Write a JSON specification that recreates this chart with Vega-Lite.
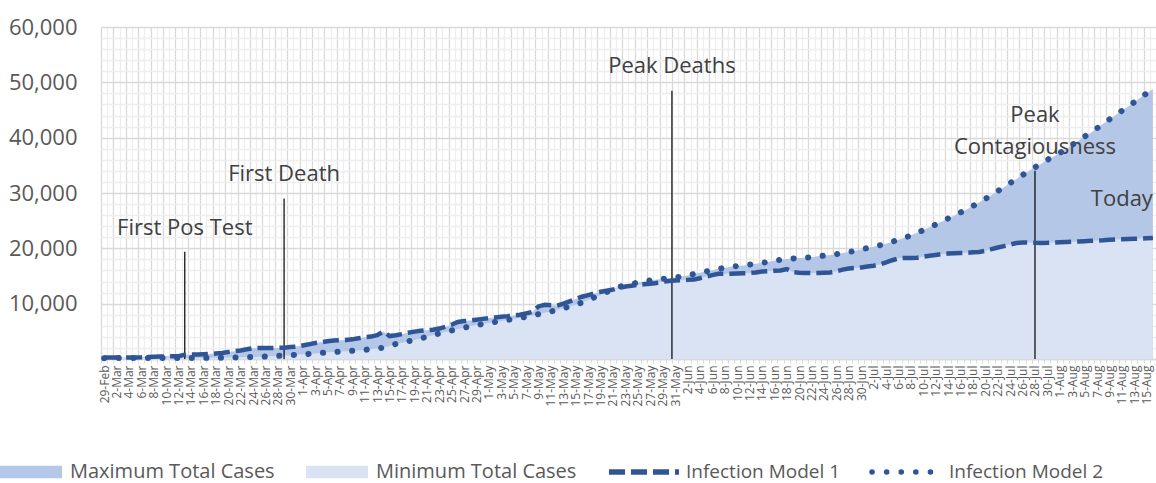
{
  "$schema": "https://vega.github.io/schema/vega-lite/v6.json",
  "width": 1055,
  "height": 332,
  "autosize": {"type": "none"},
  "padding": {"left": 101, "top": 27, "right": 0, "bottom": 124},
  "background": "white",
  "config": {"font": "Open Sans", "view": {"stroke": null}},
  "datasets": {
    "cases": [
      {"d":"2020-02-29","m1":250,"m2":150,"mx":250,"mn":150},
      {"d":"2020-03-01","m1":250,"m2":150,"mx":250,"mn":150},
      {"d":"2020-03-02","m1":250,"m2":160,"mx":250,"mn":160},
      {"d":"2020-03-03","m1":260,"m2":160,"mx":260,"mn":160},
      {"d":"2020-03-04","m1":270,"m2":170,"mx":270,"mn":170},
      {"d":"2020-03-05","m1":280,"m2":170,"mx":280,"mn":170},
      {"d":"2020-03-06","m1":300,"m2":180,"mx":300,"mn":180},
      {"d":"2020-03-07","m1":350,"m2":180,"mx":350,"mn":180},
      {"d":"2020-03-08","m1":400,"m2":190,"mx":400,"mn":190},
      {"d":"2020-03-09","m1":450,"m2":190,"mx":450,"mn":190},
      {"d":"2020-03-10","m1":480,"m2":200,"mx":480,"mn":200},
      {"d":"2020-03-11","m1":480,"m2":200,"mx":480,"mn":200},
      {"d":"2020-03-12","m1":500,"m2":200,"mx":500,"mn":200},
      {"d":"2020-03-13","m1":780,"m2":200,"mx":780,"mn":200},
      {"d":"2020-03-14","m1":800,"m2":200,"mx":800,"mn":200},
      {"d":"2020-03-15","m1":800,"m2":200,"mx":800,"mn":200},
      {"d":"2020-03-16","m1":850,"m2":200,"mx":850,"mn":200},
      {"d":"2020-03-17","m1":900,"m2":210,"mx":900,"mn":210},
      {"d":"2020-03-18","m1":1000,"m2":220,"mx":1000,"mn":220},
      {"d":"2020-03-19","m1":1100,"m2":240,"mx":1100,"mn":240},
      {"d":"2020-03-20","m1":1250,"m2":260,"mx":1250,"mn":260},
      {"d":"2020-03-21","m1":1400,"m2":280,"mx":1400,"mn":280},
      {"d":"2020-03-22","m1":1550,"m2":310,"mx":1550,"mn":310},
      {"d":"2020-03-23","m1":1750,"m2":340,"mx":1750,"mn":340},
      {"d":"2020-03-24","m1":1950,"m2":360,"mx":1950,"mn":360},
      {"d":"2020-03-25","m1":2000,"m2":400,"mx":2000,"mn":400},
      {"d":"2020-03-26","m1":2000,"m2":450,"mx":2000,"mn":450},
      {"d":"2020-03-27","m1":2000,"m2":500,"mx":2000,"mn":500},
      {"d":"2020-03-28","m1":2000,"m2":560,"mx":2000,"mn":560},
      {"d":"2020-03-29","m1":2050,"m2":620,"mx":2050,"mn":620},
      {"d":"2020-03-30","m1":2150,"m2":690,"mx":2150,"mn":690},
      {"d":"2020-03-31","m1":2250,"m2":770,"mx":2250,"mn":770},
      {"d":"2020-04-01","m1":2450,"m2":850,"mx":2450,"mn":850},
      {"d":"2020-04-02","m1":2650,"m2":920,"mx":2650,"mn":920},
      {"d":"2020-04-03","m1":2900,"m2":1000,"mx":2900,"mn":1000},
      {"d":"2020-04-04","m1":3050,"m2":1100,"mx":3050,"mn":1100},
      {"d":"2020-04-05","m1":3200,"m2":1200,"mx":3200,"mn":1200},
      {"d":"2020-04-06","m1":3350,"m2":1270,"mx":3350,"mn":1270},
      {"d":"2020-04-07","m1":3380,"m2":1340,"mx":3380,"mn":1340},
      {"d":"2020-04-08","m1":3420,"m2":1410,"mx":3420,"mn":1410},
      {"d":"2020-04-09","m1":3550,"m2":1480,"mx":3550,"mn":1480},
      {"d":"2020-04-10","m1":3750,"m2":1550,"mx":3750,"mn":1550},
      {"d":"2020-04-11","m1":3950,"m2":1660,"mx":3950,"mn":1660},
      {"d":"2020-04-12","m1":4050,"m2":1770,"mx":4050,"mn":1770},
      {"d":"2020-04-13","m1":4300,"m2":1900,"mx":4300,"mn":1900},
      {"d":"2020-04-14","m1":4950,"m2":2050,"mx":4950,"mn":2050},
      {"d":"2020-04-15","m1":4150,"m2":2350,"mx":4150,"mn":2350},
      {"d":"2020-04-16","m1":4300,"m2":2700,"mx":4300,"mn":2700},
      {"d":"2020-04-17","m1":4500,"m2":2950,"mx":4500,"mn":2950},
      {"d":"2020-04-18","m1":4750,"m2":3200,"mx":4750,"mn":3200},
      {"d":"2020-04-19","m1":4950,"m2":3420,"mx":4950,"mn":3420},
      {"d":"2020-04-20","m1":5100,"m2":3700,"mx":5100,"mn":3700},
      {"d":"2020-04-21","m1":5200,"m2":4000,"mx":5200,"mn":4000},
      {"d":"2020-04-22","m1":5300,"m2":4300,"mx":5300,"mn":4300},
      {"d":"2020-04-23","m1":5500,"m2":4600,"mx":5500,"mn":4600},
      {"d":"2020-04-24","m1":5800,"m2":4880,"mx":5800,"mn":4880},
      {"d":"2020-04-25","m1":6200,"m2":5150,"mx":6200,"mn":5150},
      {"d":"2020-04-26","m1":6700,"m2":5420,"mx":6700,"mn":5420},
      {"d":"2020-04-27","m1":6850,"m2":5650,"mx":6850,"mn":5650},
      {"d":"2020-04-28","m1":6950,"m2":5900,"mx":6950,"mn":5900},
      {"d":"2020-04-29","m1":7100,"m2":6130,"mx":7100,"mn":6130},
      {"d":"2020-04-30","m1":7250,"m2":6320,"mx":7250,"mn":6320},
      {"d":"2020-05-01","m1":7400,"m2":6500,"mx":7400,"mn":6500},
      {"d":"2020-05-02","m1":7520,"m2":6680,"mx":7520,"mn":6680},
      {"d":"2020-05-03","m1":7650,"m2":6850,"mx":7650,"mn":6850},
      {"d":"2020-05-04","m1":7750,"m2":7050,"mx":7750,"mn":7050},
      {"d":"2020-05-05","m1":7880,"m2":7250,"mx":7880,"mn":7250},
      {"d":"2020-05-06","m1":8000,"m2":7430,"mx":8000,"mn":7430},
      {"d":"2020-05-07","m1":8250,"m2":7620,"mx":8250,"mn":7620},
      {"d":"2020-05-08","m1":8500,"m2":7850,"mx":8500,"mn":7850},
      {"d":"2020-05-09","m1":9500,"m2":8100,"mx":9500,"mn":8100},
      {"d":"2020-05-10","m1":9800,"m2":8350,"mx":9800,"mn":8350},
      {"d":"2020-05-11","m1":9700,"m2":8600,"mx":9700,"mn":8600},
      {"d":"2020-05-12","m1":9650,"m2":8850,"mx":9650,"mn":8850},
      {"d":"2020-05-13","m1":10000,"m2":9150,"mx":10000,"mn":9150},
      {"d":"2020-05-14","m1":10400,"m2":9480,"mx":10400,"mn":9480},
      {"d":"2020-05-15","m1":10850,"m2":9800,"mx":10850,"mn":9800},
      {"d":"2020-05-16","m1":11250,"m2":10200,"mx":11250,"mn":10200},
      {"d":"2020-05-17","m1":11550,"m2":10650,"mx":11550,"mn":10650},
      {"d":"2020-05-18","m1":11850,"m2":11150,"mx":11850,"mn":11150},
      {"d":"2020-05-19","m1":12150,"m2":11550,"mx":12150,"mn":11550},
      {"d":"2020-05-20","m1":12350,"m2":12100,"mx":12350,"mn":12100},
      {"d":"2020-05-21","m1":12550,"m2":12600,"mx":12600,"mn":12550},
      {"d":"2020-05-22","m1":12850,"m2":13050,"mx":13050,"mn":12850},
      {"d":"2020-05-23","m1":13100,"m2":13350,"mx":13350,"mn":13100},
      {"d":"2020-05-24","m1":13250,"m2":13600,"mx":13600,"mn":13250},
      {"d":"2020-05-25","m1":13400,"m2":13800,"mx":13800,"mn":13400},
      {"d":"2020-05-26","m1":13500,"m2":14000,"mx":14000,"mn":13500},
      {"d":"2020-05-27","m1":13600,"m2":14200,"mx":14200,"mn":13600},
      {"d":"2020-05-28","m1":13750,"m2":14350,"mx":14350,"mn":13750},
      {"d":"2020-05-29","m1":13950,"m2":14460,"mx":14460,"mn":13950},
      {"d":"2020-05-30","m1":14100,"m2":14600,"mx":14600,"mn":14100},
      {"d":"2020-05-31","m1":14200,"m2":14750,"mx":14750,"mn":14200},
      {"d":"2020-06-01","m1":14250,"m2":14900,"mx":14900,"mn":14250},
      {"d":"2020-06-02","m1":14300,"m2":15100,"mx":15100,"mn":14300},
      {"d":"2020-06-03","m1":14350,"m2":15350,"mx":15350,"mn":14350},
      {"d":"2020-06-04","m1":14600,"m2":15600,"mx":15600,"mn":14600},
      {"d":"2020-06-05","m1":14900,"m2":15830,"mx":15830,"mn":14900},
      {"d":"2020-06-06","m1":15150,"m2":16050,"mx":16050,"mn":15150},
      {"d":"2020-06-07","m1":15400,"m2":16300,"mx":16300,"mn":15400},
      {"d":"2020-06-08","m1":15420,"m2":16480,"mx":16480,"mn":15420},
      {"d":"2020-06-09","m1":15420,"m2":16650,"mx":16650,"mn":15420},
      {"d":"2020-06-10","m1":15450,"m2":16800,"mx":16800,"mn":15450},
      {"d":"2020-06-11","m1":15500,"m2":16920,"mx":16920,"mn":15500},
      {"d":"2020-06-12","m1":15550,"m2":17050,"mx":17050,"mn":15550},
      {"d":"2020-06-13","m1":15650,"m2":17220,"mx":17220,"mn":15650},
      {"d":"2020-06-14","m1":15800,"m2":17380,"mx":17380,"mn":15800},
      {"d":"2020-06-15","m1":15870,"m2":17550,"mx":17550,"mn":15870},
      {"d":"2020-06-16","m1":15950,"m2":17750,"mx":17750,"mn":15950},
      {"d":"2020-06-17","m1":16000,"m2":17940,"mx":17940,"mn":16000},
      {"d":"2020-06-18","m1":16250,"m2":18050,"mx":18050,"mn":16250},
      {"d":"2020-06-19","m1":15700,"m2":18170,"mx":18170,"mn":15700},
      {"d":"2020-06-20","m1":15600,"m2":18250,"mx":18250,"mn":15600},
      {"d":"2020-06-21","m1":15550,"m2":18320,"mx":18320,"mn":15550},
      {"d":"2020-06-22","m1":15540,"m2":18400,"mx":18400,"mn":15540},
      {"d":"2020-06-23","m1":15560,"m2":18550,"mx":18550,"mn":15560},
      {"d":"2020-06-24","m1":15600,"m2":18670,"mx":18670,"mn":15600},
      {"d":"2020-06-25","m1":15650,"m2":18800,"mx":18800,"mn":15650},
      {"d":"2020-06-26","m1":15850,"m2":18950,"mx":18950,"mn":15850},
      {"d":"2020-06-27","m1":16150,"m2":19150,"mx":19150,"mn":16150},
      {"d":"2020-06-28","m1":16350,"m2":19350,"mx":19350,"mn":16350},
      {"d":"2020-06-29","m1":16450,"m2":19550,"mx":19550,"mn":16450},
      {"d":"2020-06-30","m1":16550,"m2":19780,"mx":19780,"mn":16550},
      {"d":"2020-07-01","m1":16700,"m2":20060,"mx":20060,"mn":16700},
      {"d":"2020-07-02","m1":16850,"m2":20300,"mx":20300,"mn":16850},
      {"d":"2020-07-03","m1":17100,"m2":20550,"mx":20550,"mn":17100},
      {"d":"2020-07-04","m1":17450,"m2":20850,"mx":20850,"mn":17450},
      {"d":"2020-07-05","m1":17850,"m2":21200,"mx":21200,"mn":17850},
      {"d":"2020-07-06","m1":18200,"m2":21550,"mx":21550,"mn":18200},
      {"d":"2020-07-07","m1":18250,"m2":21900,"mx":21900,"mn":18250},
      {"d":"2020-07-08","m1":18250,"m2":22350,"mx":22350,"mn":18250},
      {"d":"2020-07-09","m1":18300,"m2":22800,"mx":22800,"mn":18300},
      {"d":"2020-07-10","m1":18500,"m2":23300,"mx":23300,"mn":18500},
      {"d":"2020-07-11","m1":18670,"m2":23800,"mx":23800,"mn":18670},
      {"d":"2020-07-12","m1":18800,"m2":24300,"mx":24300,"mn":18800},
      {"d":"2020-07-13","m1":18950,"m2":24850,"mx":24850,"mn":18950},
      {"d":"2020-07-14","m1":19050,"m2":25400,"mx":25400,"mn":19050},
      {"d":"2020-07-15","m1":19100,"m2":25950,"mx":25950,"mn":19100},
      {"d":"2020-07-16","m1":19150,"m2":26500,"mx":26500,"mn":19150},
      {"d":"2020-07-17","m1":19200,"m2":27000,"mx":27000,"mn":19200},
      {"d":"2020-07-18","m1":19280,"m2":27650,"mx":27650,"mn":19280},
      {"d":"2020-07-19","m1":19330,"m2":28300,"mx":28300,"mn":19330},
      {"d":"2020-07-20","m1":19550,"m2":28950,"mx":28950,"mn":19550},
      {"d":"2020-07-21","m1":19850,"m2":29630,"mx":29630,"mn":19850},
      {"d":"2020-07-22","m1":20150,"m2":30350,"mx":30350,"mn":20150},
      {"d":"2020-07-23","m1":20400,"m2":31050,"mx":31050,"mn":20400},
      {"d":"2020-07-24","m1":20700,"m2":31800,"mx":31800,"mn":20700},
      {"d":"2020-07-25","m1":20950,"m2":32550,"mx":32550,"mn":20950},
      {"d":"2020-07-26","m1":21070,"m2":33250,"mx":33250,"mn":21070},
      {"d":"2020-07-27","m1":21050,"m2":33970,"mx":33970,"mn":21050},
      {"d":"2020-07-28","m1":21000,"m2":34650,"mx":34650,"mn":21000},
      {"d":"2020-07-29","m1":20980,"m2":35300,"mx":35300,"mn":20980},
      {"d":"2020-07-30","m1":21000,"m2":36000,"mx":36000,"mn":21000},
      {"d":"2020-07-31","m1":21050,"m2":36610,"mx":36610,"mn":21050},
      {"d":"2020-08-01","m1":21100,"m2":37250,"mx":37250,"mn":21100},
      {"d":"2020-08-02","m1":21150,"m2":37900,"mx":37900,"mn":21150},
      {"d":"2020-08-03","m1":21200,"m2":38700,"mx":38700,"mn":21200},
      {"d":"2020-08-04","m1":21250,"m2":39450,"mx":39450,"mn":21250},
      {"d":"2020-08-05","m1":21300,"m2":40200,"mx":40200,"mn":21300},
      {"d":"2020-08-06","m1":21350,"m2":40900,"mx":40900,"mn":21350},
      {"d":"2020-08-07","m1":21400,"m2":41700,"mx":41700,"mn":21400},
      {"d":"2020-08-08","m1":21450,"m2":42500,"mx":42500,"mn":21450},
      {"d":"2020-08-09","m1":21530,"m2":43300,"mx":43300,"mn":21530},
      {"d":"2020-08-10","m1":21580,"m2":44100,"mx":44100,"mn":21580},
      {"d":"2020-08-11","m1":21620,"m2":44850,"mx":44850,"mn":21620},
      {"d":"2020-08-12","m1":21670,"m2":45650,"mx":45650,"mn":21670},
      {"d":"2020-08-13","m1":21720,"m2":46400,"mx":46400,"mn":21720},
      {"d":"2020-08-14","m1":21770,"m2":47250,"mx":47250,"mn":21770},
      {"d":"2020-08-15","m1":21820,"m2":48000,"mx":48000,"mn":21820},
      {"d":"2020-08-16","m1":21870,"m2":48800,"mx":48800,"mn":21870}
    ],
    "rules": [
      {"d":"2020-03-13","top":19400},
      {"d":"2020-03-29","top":29000},
      {"d":"2020-05-30T12:00:00Z","top":48500},
      {"d":"2020-07-28","top":34000}
    ],
    "notes": [
      {"d":"2020-03-13","ty":22400,"label":"First Pos Test"},
      {"d":"2020-03-29","ty":32200,"label":"First Death"},
      {"d":"2020-05-30T12:00:00Z","ty":51600,"label":"Peak Deaths"},
      {"d":"2020-07-28","ty":42900,"label":["Peak","Contagiousness"]},
      {"d":"2020-08-11","ty":27600,"label":"Today"}
    ]
  },
  "layer": [
    {
      "data": {"name": "cases"},
      "mark": {"type": "area", "opacity": 1},
      "encoding": {
        "x": {
          "field": "d", "type": "temporal", "title": null,
          "scale": {"type": "utc", "domain": [1582891200000, 1597579200000]},
          "axis": {
            "title": null,
            "tickCount": {"interval": "day", "step": 1},
            "tickOffset": -3.103,
            "labelOffset": 3.103,
            "labelAngle": 270,
            "labelAlign": "right",
            "labelBaseline": "middle",
            "labelFontSize": 12,
            "labelColor": "#595959",
            "labelPadding": 2,
            "labelOverlap": false,
            "labelBound": false,
            "labelFlush": false,
            "labelExpr": "round((datum.value - 1582934400000) / 86400000) % 2 === 0 ? utcFormat(datum.value, '%-d-%b') : ''",
            "grid": true,
            "gridColor": {"condition": {"test": "round((datum.value - 1582934400000) / 86400000) % 2 === 0", "value": "#d9d9d9"}, "value": "#eeeeee"},
            "gridWidth": 1.3,
            "ticks": true,
            "tickSize": 4,
            "tickColor": "#d9d9d9",
            "domainColor": "#d9d9d9",
            "domainWidth": 1.3
          }
        },
        "y": {
          "field": "mx", "type": "quantitative", "title": null,
          "scale": {"domain": [0, 60000], "nice": false},
          "axis": {
            "title": null,
            "values": [0,2000,4000,6000,8000,10000,12000,14000,16000,18000,20000,22000,24000,26000,28000,30000,32000,34000,36000,38000,40000,42000,44000,46000,48000,50000,52000,54000,56000,58000,60000],
            "tickCount": 31,
            "labelExpr": "datum.value % 10000 === 0 && datum.value > 0 ? format(datum.value, ',') : ''",
            "labelFontSize": 22,
            "labelColor": "#595959",
            "labelPadding": 24,
            "labelOverlap": false,
            "labelBound": false,
            "labelFlush": false,
            "ticks": false,
            "domain": false,
            "grid": true,
            "gridColor": {"condition": {"test": "datum.value % 10000 === 0", "value": "#d9d9d9"}, "value": "#eeeeee"},
            "gridWidth": 1.3
          }
        },
        "color": {
          "datum": "Maximum Total Cases",
          "scale": {"domain": ["Maximum Total Cases", "Minimum Total Cases"], "range": ["#b4c7e7", "#dae3f3"]},
          "legend": {
            "orient": "none", "legendX": -101, "legendY": 414, "direction": "horizontal", "title": null,
            "symbolType": "M-1,-0.2H1V0.2H-1Z", "symbolSize": 3844, "symbolStrokeWidth": 0, "symbolOpacity": 1,
            "labelFontSize": 20, "labelColor": "#595959", "labelOffset": 8, "columnPadding": 31, "labelLimit": 400
          }
        }
      }
    },
    {
      "data": {"name": "cases"},
      "mark": {"type": "area", "opacity": 1},
      "encoding": {
        "x": {"field": "d", "type": "temporal", "title": null},
        "y": {"field": "mn", "type": "quantitative", "title": null},
        "color": {"datum": "Minimum Total Cases"}
      }
    },
    {
      "data": {"name": "rules"},
      "mark": {"type": "rule", "color": "#000000", "strokeWidth": 1.2},
      "encoding": {
        "x": {"field": "d", "type": "temporal", "title": null},
        "y": {"field": "top", "type": "quantitative", "title": null},
        "y2": {"datum": 0}
      }
    },
    {
      "data": {"name": "notes"},
      "mark": {"type": "text", "fontSize": 22, "color": "#404040", "align": "center", "baseline": "alphabetic", "lineHeight": 32},
      "encoding": {
        "x": {"field": "d", "type": "temporal", "title": null},
        "y": {"field": "ty", "type": "quantitative", "title": null},
        "text": {"field": "label"}
      }
    },
    {
      "data": {"name": "cases"},
      "mark": {"type": "line", "color": "#2f5597", "strokeWidth": 4.5, "strokeCap": "butt"},
      "encoding": {
        "x": {"field": "d", "type": "temporal", "title": null},
        "y": {"field": "m1", "type": "quantitative", "title": null},
        "strokeDash": {
          "datum": "Infection Model 1",
          "scale": {"domain": ["Infection Model 1", "Infection Model 2"], "range": [[16, 6], [0.1, 14.5]]},
          "legend": {
            "orient": "none", "legendX": 505, "legendY": 407, "direction": "horizontal", "title": null,
            "symbolType": "stroke", "symbolSize": 4900, "symbolStrokeColor": "#2f5597", "symbolStrokeWidth": 5.5,
            "labelFontSize": 19, "labelColor": "#595959", "labelOffset": 4, "columnPadding": 20, "labelLimit": 400,
            "encode": {"symbols": {"update": {
              "strokeCap": [{"test": "datum.value === 'Infection Model 2'", "value": "round"}, {"value": "butt"}]
            }}}
          }
        }
      }
    },
    {
      "data": {"name": "cases"},
      "mark": {"type": "line", "color": "#2f5597", "strokeWidth": 6, "strokeCap": "round"},
      "encoding": {
        "x": {"field": "d", "type": "temporal", "title": null},
        "y": {"field": "m2", "type": "quantitative", "title": null},
        "strokeDash": {"datum": "Infection Model 2"}
      }
    }
  ]
}
